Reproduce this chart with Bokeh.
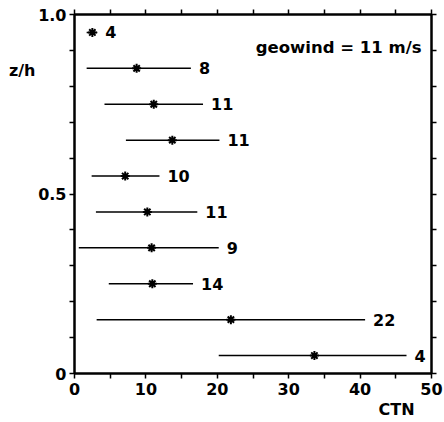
from bokeh.plotting import figure
from bokeh.models import ColumnDataSource, LinearAxis, FixedTicker, Label, Range1d
from bokeh.embed import file_html
from bokeh.resources import INLINE
from bokeh.core.properties import value

# data
z = [0.95, 0.85, 0.75, 0.65, 0.55, 0.45, 0.35, 0.25, 0.15, 0.05]
ctn_mean = [2.5, 8.7, 11.1, 13.7, 7.1, 10.2, 10.8, 10.9, 21.9, 33.6]
ctn_low = [1.7, 1.7, 4.2, 7.2, 2.4, 3.0, 0.6, 4.8, 3.1, 20.2]
ctn_high = [3.2, 16.3, 18.0, 20.3, 11.9, 17.2, 20.2, 16.6, 40.7, 46.5]
counts = ["4", "8", "11", "11", "10", "11", "9", "14", "22", "4"]
x_ticks = [0, 10, 20, 30, 40, 50]
x_minor = [5, 15, 25, 35, 45]
y_ticks = [0, 0.5, 1.0]
y_minor = [0.1, 0.2, 0.3, 0.4, 0.6, 0.7, 0.8, 0.9]
y_tick_labels = {0: "0", 0.5: "0.5", 1: "1.0"}
x_title, x_title_pos = "CTN", 45.1
y_title, y_title_pos = "z/h", 0.844

FONT = "DejaVu Sans"

src = ColumnDataSource(dict(z=z, m=ctn_mean, lo=ctn_low, hi=ctn_high, n=counts))

p = figure(width=444, height=422, output_backend="svg", toolbar_location=None,
           x_range=Range1d(0, 50), y_range=Range1d(0, 1.0),
           min_border_left=74, min_border_right=13, min_border_top=14, min_border_bottom=49)
p.grid.visible = False
p.outline_line_color = "black"
p.outline_line_width = 2
p.background_fill_color = "white"
p.border_fill_color = "white"

p.segment(x0="lo", y0="z", x1="hi", y1="z", source=src, line_color="black", line_width=1.5)
p.scatter(x="m", y="z", source=src, marker="asterisk", size=9, line_color="black", line_width=2)
p.text(x="hi", y="z", text="n", source=src, x_offset=8, text_baseline="middle",
       text_font=value(FONT), text_font_style="bold", text_font_size="16px", text_color="black")

def style(ax, labels=True):
    ax.axis_line_width = 2
    ax.major_tick_in = 0
    ax.major_tick_out = 5
    ax.minor_tick_in = 0
    ax.minor_tick_out = 5
    ax.major_tick_line_width = 1.5
    ax.minor_tick_line_width = 1.5
    ax.major_label_text_font = FONT
    ax.major_label_text_font_style = "bold"
    ax.major_label_text_font_size = "16px"
    ax.major_label_text_color = "black"

def title_axis(ax):
    ax.axis_line_color = None
    ax.major_tick_line_color = None
    ax.minor_tick_line_color = None
    ax.major_tick_out = 0
    ax.minor_tick_out = 0
    ax.major_label_text_font = FONT
    ax.major_label_text_font_style = "bold"
    ax.major_label_text_font_size = "16px"
    ax.major_label_text_color = "black"

xax = p.xaxis[0]
xax.ticker = FixedTicker(ticks=x_ticks, minor_ticks=x_minor)
style(xax)
xax.major_label_standoff = 4
yax = p.yaxis[0]
yax.ticker = FixedTicker(ticks=y_ticks, minor_ticks=y_minor)
yax.major_label_overrides = y_tick_labels
style(yax)
yax.major_label_standoff = 3

top = LinearAxis(ticker=FixedTicker(ticks=x_ticks, minor_ticks=x_minor))
style(top)
top.major_label_overrides = {t: "" for t in x_ticks}
p.add_layout(top, "above")
right = LinearAxis(ticker=FixedTicker(ticks=y_ticks, minor_ticks=y_minor))
style(right)
right.major_label_overrides = {t: "" for t in y_ticks}
p.add_layout(right, "right")

# axis titles placed as single-tick label axes outside the frame
xt = LinearAxis(ticker=FixedTicker(ticks=[x_title_pos], minor_ticks=[]))
title_axis(xt)
xt.major_label_overrides = {x_title_pos: x_title}
xt.major_label_standoff = 2
p.add_layout(xt, "below")
yt = LinearAxis(ticker=FixedTicker(ticks=[y_title_pos], minor_ticks=[]))
title_axis(yt)
yt.major_label_overrides = {y_title_pos: y_title}
yt.major_label_standoff = 0
p.add_layout(yt, "left")

p.add_layout(Label(x=48.6, y=0.907, text="geowind = 11 m/s", text_font=FONT, text_font_style="bold",
                   text_color="black", text_font_size="16.5px", text_baseline="middle", text_align="right"))

open("out.html", "w").write(file_html(p, INLINE))
